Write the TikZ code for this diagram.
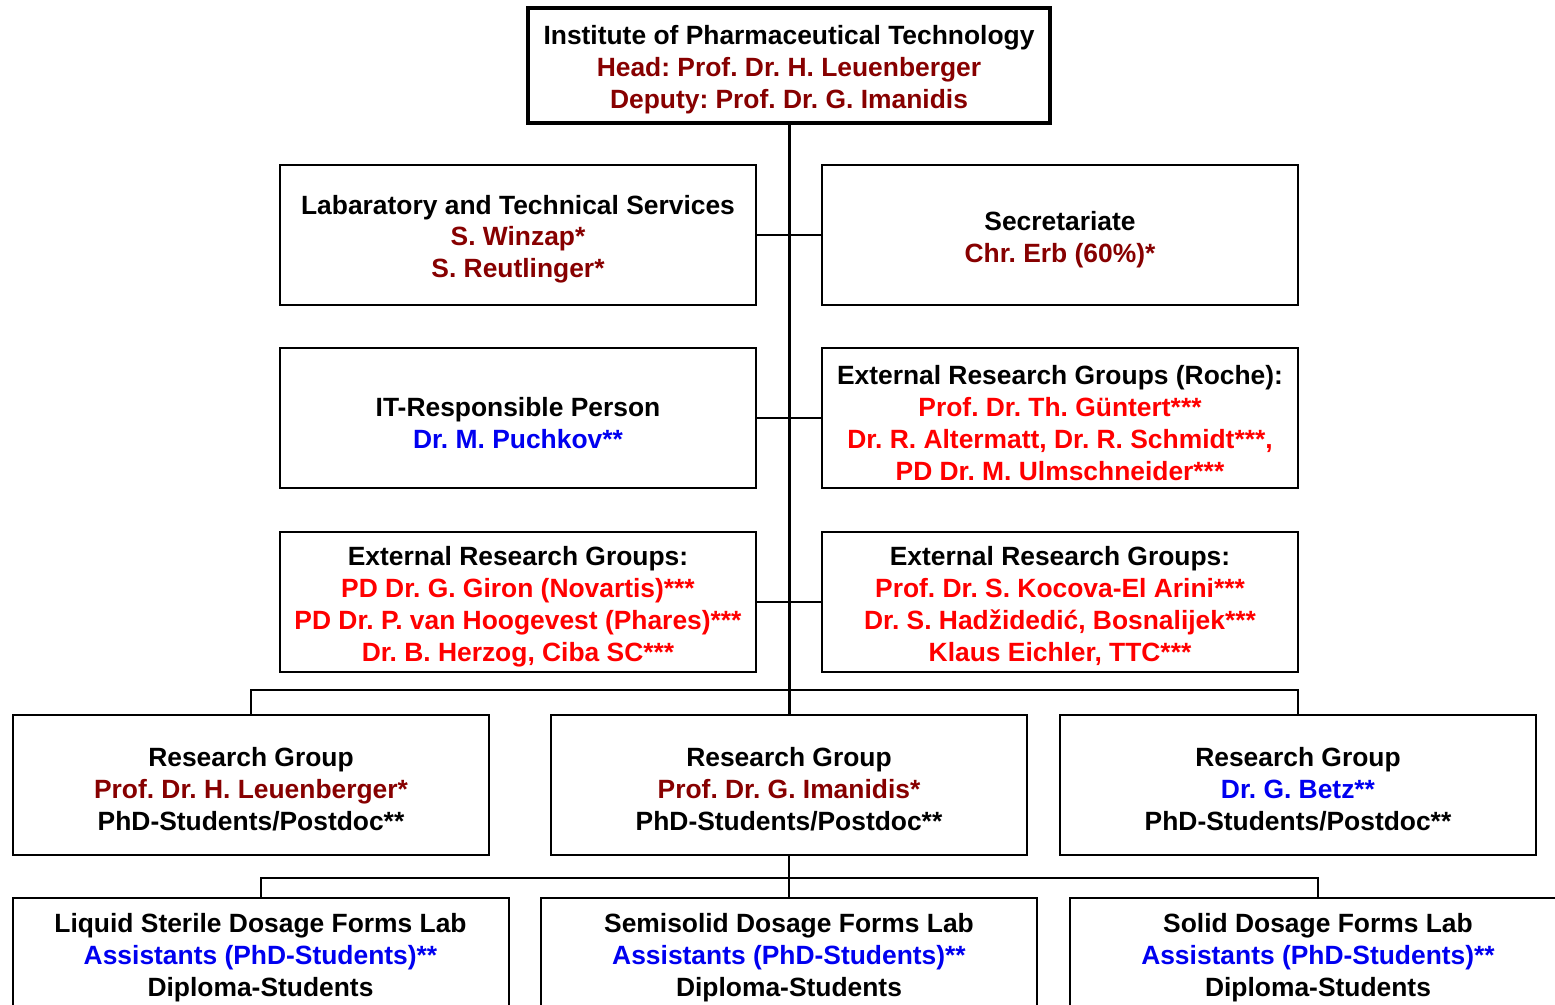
\documentclass[tikz,border=0pt]{standalone}
\usepackage{fontspec}
\setmainfont{Liberation Sans}
\frenchspacing
\definecolor{headred}{RGB}{135,0,0}
\definecolor{extred}{RGB}{255,0,0}
\definecolor{staffblue}{RGB}{0,0,240}
% extra room above the first text line of every box
\newcommand\firstline{\rule{0pt}{13.8pt}}
\begin{document}
\begin{tikzpicture}[x=0.5pt,y=-0.5pt,
  unit/.style={draw, line width=1pt, align=center, inner sep=0pt,
    minimum width=238pt, minimum height=70pt,
    font=\fontsize{13.2}{16}\selectfont\bfseries},
  labbox/.style={unit, minimum width=248pt, minimum height=55pt},
  headbox/.style={unit, line width=2.2pt, minimum width=261pt, minimum height=57.5pt},
  link/.style={line width=1pt},
  trunk/.style={line width=1.5pt}]
\clip (0,0) rectangle (1555,1005);
\fill[white] (0,0) rectangle (1555,1005);

% institute head
\node[headbox] (inst) at (789,65.5) {\firstline Institute of Pharmaceutical Technology\\
  \textcolor{headred}{Head: Prof. Dr. H. Leuenberger}\\
  \textcolor{headred}{Deputy: Prof. Dr. G. Imanidis}};

% staff units beside the trunk
\node[unit] (lab) at (518,235) {\firstline Labaratory and Technical Services\\
  \textcolor{headred}{S. Winzap*}\\ \textcolor{headred}{S. Reutlinger*}};
\node[unit] (sec) at (1060,235) {\firstline Secretariate\\ \textcolor{headred}{Chr. Erb (60\%)*}};
\node[unit] (it) at (518,418.5) {\firstline IT-Responsible Person\\ \textcolor{staffblue}{Dr. M. Puchkov**}};
\node[unit] (roche) at (1060,418.5) {\firstline External Research Groups (Roche):\\
  \textcolor{extred}{Prof. Dr. Th. Güntert***}\\
  \textcolor{extred}{Dr. R. Altermatt, Dr. R. Schmidt***,}\\
  \textcolor{extred}{PD Dr. M. Ulmschneider***}};
\node[unit] (extA) at (518,602) {\firstline External Research Groups:\\
  \textcolor{extred}{PD Dr. G. Giron (Novartis)***}\\
  \textcolor{extred}{PD Dr. P. van Hoogevest (Phares)***}\\
  \textcolor{extred}{Dr. B. Herzog, Ciba SC***}};
\node[unit] (extB) at (1060,602) {\firstline External Research Groups:\\
  \textcolor{extred}{Prof. Dr. S. Kocova-El Arini***}\\
  \textcolor{extred}{Dr. S. Hadžidedić, Bosnalijek***}\\
  \textcolor{extred}{Klaus Eichler, TTC***}};

% research groups
\node[unit] (rgA) at (251,785) {\firstline Research Group\\
  \textcolor{headred}{Prof. Dr. H. Leuenberger*}\\ PhD-Students/Postdoc**};
\node[unit] (rgB) at (789,785) {\firstline Research Group\\
  \textcolor{headred}{Prof. Dr. G. Imanidis*}\\ PhD-Students/Postdoc**};
\node[unit] (rgC) at (1298,785) {\firstline Research Group\\
  \textcolor{staffblue}{Dr. G. Betz**}\\ PhD-Students/Postdoc**};

% laboratories
\node[labbox] (labL) at (260.5,953) {\firstline Liquid Sterile Dosage Forms Lab\\
  \textcolor{staffblue}{Assistants (PhD-Students)**}\\ Diploma-Students};
\node[labbox] (labS) at (789,953) {\firstline Semisolid Dosage Forms Lab\\
  \textcolor{staffblue}{Assistants (PhD-Students)**}\\ Diploma-Students};
\node[labbox] (labD) at (1318,953) {\firstline Solid Dosage Forms Lab\\
  \textcolor{staffblue}{Assistants (PhD-Students)**}\\ Diploma-Students};

% connectors
\draw[trunk] (inst.south) -- (rgB.north);
\draw[link] (lab.east) -- (sec.west);
\draw[link] (it.east) -- (roche.west);
\draw[link] (extA.east) -- (extB.west);
\draw[link] (rgA.north) -- ++(0,-24) -| (rgC.north);
\draw[link] (rgB.south) -- ++(0,22) coordinate (fork);
\draw[link] (labL.north) |- (fork) -| (labD.north);
\draw[link] (fork) -- (labS.north);
\end{tikzpicture}
\end{document}
